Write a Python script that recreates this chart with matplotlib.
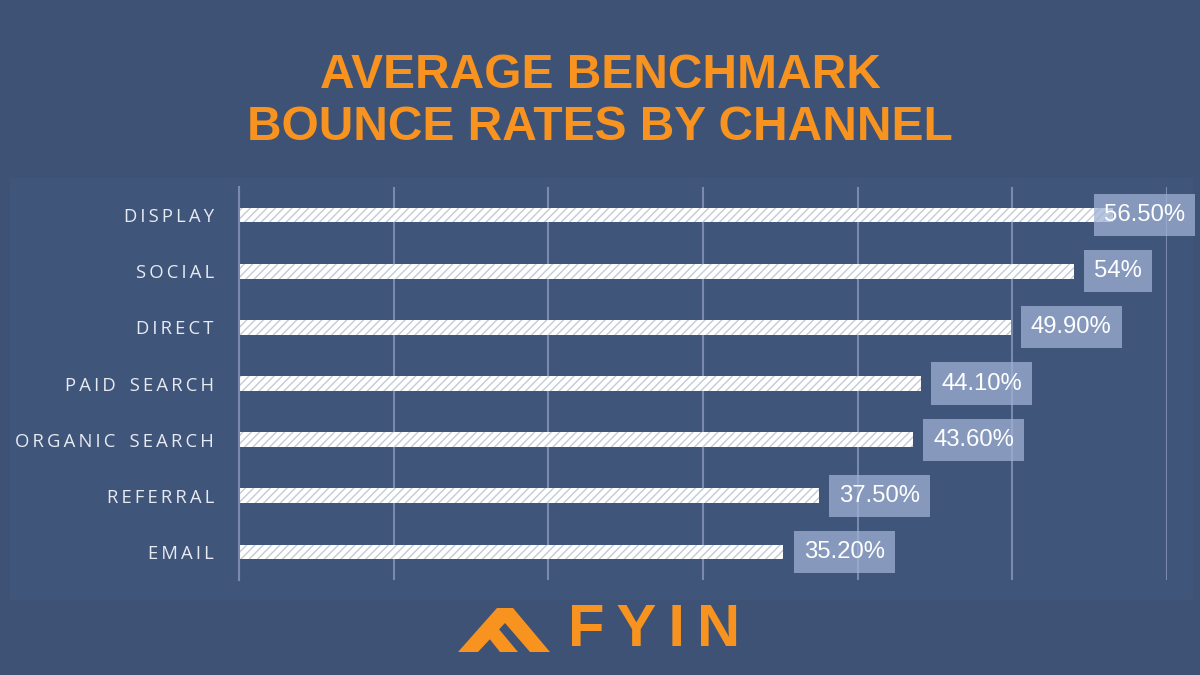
import matplotlib.pyplot as plt
from matplotlib.patches import Rectangle, Polygon

channels = ["DISPLAY", "SOCIAL", "DIRECT", "PAID SEARCH", "ORGANIC SEARCH", "REFERRAL", "EMAIL"]
bounce_rates = [56.5, 54.0, 49.9, 44.1, 43.6, 37.5, 35.2]
rate_labels = ["56.50%", "54%", "49.90%", "44.10%", "43.60%", "37.50%", "35.20%"]
title_lines = ["AVERAGE BENCHMARK", "BOUNCE RATES BY CHANNEL"]
brand = "FYIN"

BG = "#3e5276"
ORANGE = "#f7931e"
GRID = "#7a8aad"

W, H = 1200, 675


def spaced(s, gap="\u2009"):
    # letter-spaced label: thin space between letters, wider between words
    return (gap * 3 + " ").join(gap.join(w) for w in s.split(" "))


def fy(py):
    # pixel row (from top) -> figure fraction
    return 1 - py / H


plt.rcParams['hatch.linewidth'] = 1.0
fig = plt.figure(figsize=(12, 6.75), dpi=100, facecolor=BG)

# faint panel behind the chart
fig.patches.append(Rectangle((10 / W, fy(600)), 1183 / W, 422 / H, transform=fig.transFigure,
                             facecolor="#40557a", edgecolor="none", zorder=-1))

ax = fig.add_axes([239 / W, fy(580), (1167 - 239) / W, (580 - 187) / H])
ax.set_facecolor("none")
ax.set_zorder(1)

y = range(len(channels))
ax.barh(y, bounce_rates, height=0.26, color="white", edgecolor="#c3cad8",
        linewidth=0, hatch="////", zorder=2)

ax.set_xlim(0, 60)
ax.set_ylim(6.5, -0.5)
ax.set_xticks(range(0, 61, 10))
ax.grid(axis="x", color=GRID, linewidth=1.5, zorder=1)
ax.tick_params(axis="both", length=0, labelbottom=False)
for s in ["top", "right", "bottom"]:
    ax.spines[s].set_visible(False)
ax.spines["left"].set_color(GRID)
ax.spines["left"].set_linewidth(1.5)

ax.set_yticks(list(y))
ax.set_yticklabels([spaced(c) for c in channels], color="#e6eaf2", fontsize=13.3,
                   family=["Open Sans", "DejaVu Sans"])
ax.tick_params(axis="y", pad=18)

box = dict(boxstyle="square,pad=0.42", facecolor="#9fb1d4", edgecolor="none", alpha=0.75)
for i, (v, lab) in enumerate(zip(bounce_rates, rate_labels)):
    if v > 55:
        # no room on the right: pin the box against the figure edge
        ax.annotate(lab, xy=(1, i), xycoords=("axes fraction", "data"), xytext=(13, 0),
                    textcoords="offset points", ha="right", va="center", color="white",
                    fontsize=17.2, family="Liberation Sans", bbox=box, zorder=4)
    else:
        ax.annotate(lab, xy=(v, i), xytext=(14.5, 0), textcoords="offset points",
                    ha="left", va="center", color="white", fontsize=17.2,
                    family="Liberation Sans", bbox=box, zorder=4)

# title
fig.text(0.5, fy(75), title_lines[0], ha="center", va="center", color=ORANGE,
         fontsize=34.5, fontweight="bold", family="Liberation Sans")
fig.text(0.5, fy(127), title_lines[1], ha="center", va="center", color=ORANGE,
         fontsize=34.5, fontweight="bold", family="Liberation Sans")

# brand logo
fig.text(654 / W, fy(630), "\u2009".join(brand), ha="center", va="center", color=ORANGE,
         fontsize=43, fontweight="bold", family="Liberation Sans")
roof = [(458, 652), (497, 608), (513, 608), (550, 652), (530, 652), (505, 623), (478, 652)]
inner = [(484, 632), (493, 622), (518, 652), (500, 652)]
for pts in (roof, inner):
    fig.patches.append(Polygon([(x / W, fy(py)) for x, py in pts], closed=True,
                               transform=fig.transFigure, facecolor=ORANGE,
                               edgecolor="none", zorder=3))

fig.savefig("out.png", dpi=100, facecolor=BG)
